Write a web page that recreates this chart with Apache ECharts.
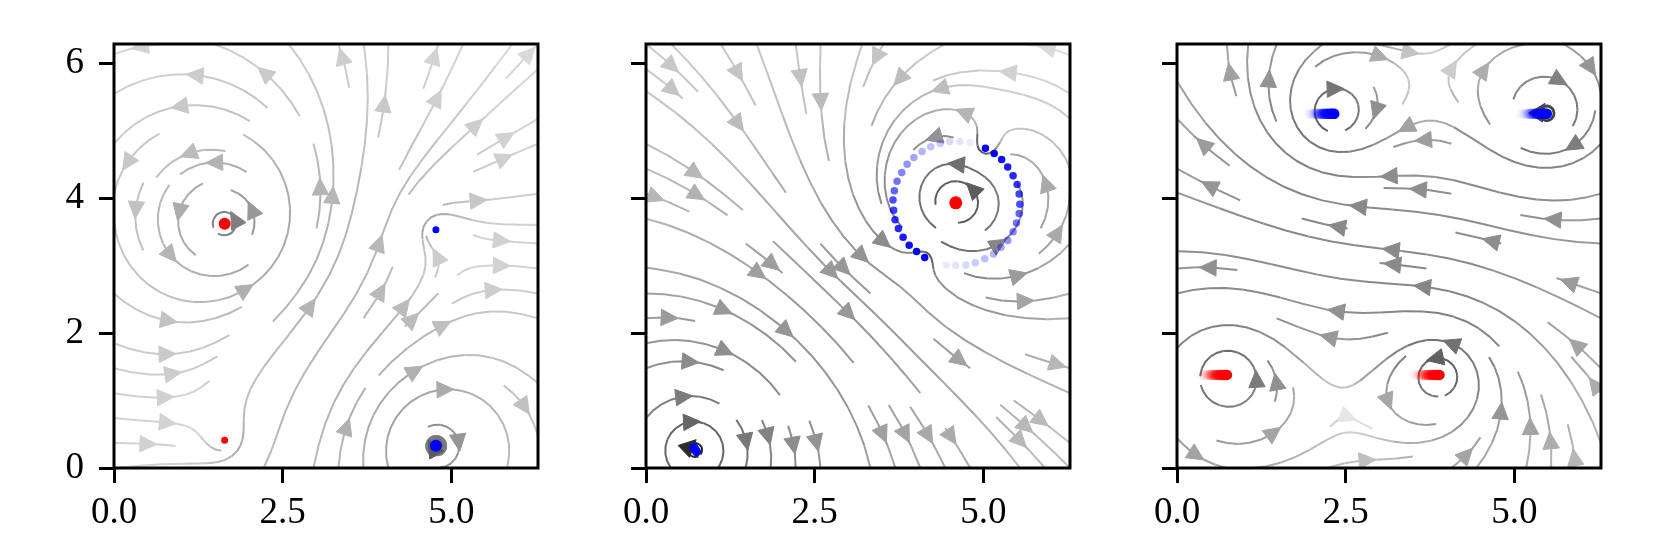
<!DOCTYPE html>
<html><head><meta charset="utf-8">
<script src="https://cdn.jsdelivr.net/npm/echarts@6/dist/echarts.min.js"></script>
<style>html,body{margin:0;padding:0;background:#fff}#c{width:1663px;height:556px}</style>
</head><body><div id="c"></div>
<script>
// ---------------- data ----------------
const TAU = 2 * Math.PI;
const xTicks = [0, 2.5, 5];
const yTicks = [0, 2, 4, 6];

// panel 1 point vortices (red = +, blue = -)
const p1VortexX = [1.64, 1.64, 4.77, 4.77];
const p1VortexY = [3.62, 0.41, 0.33, 3.53];
const p1Gamma   = [1.0, 0.2, -1.0, -0.2];

// panel 2 point vortices
const p2VortexX = [4.59, 0.73, 5.03, 4.13];
const p2VortexY = [3.93, 0.27, 4.74, 3.12];
const p2Gamma   = [1.0, -1.0, -0.2, -0.2];
// panel 2 trails of the two satellites (newest first)
const p2TrailAX = [5.03,5.16,5.27,5.36,5.44,5.50,5.53,5.54,5.53,5.49,5.44,5.36,5.26,5.15,5.02,4.88,4.74,4.59,4.45];
const p2TrailAY = [4.74,4.66,4.57,4.46,4.33,4.20,4.06,3.91,3.77,3.63,3.50,3.37,3.27,3.17,3.10,3.04,3.01,3.00,3.01];
const p2TrailBX = [4.13,4.01,3.90,3.81,3.74,3.69,3.67,3.66,3.68,3.72,3.79,3.87,3.97,4.09,4.22,4.36,4.50,4.65,4.80];
const p2TrailBY = [3.12,3.21,3.30,3.42,3.55,3.68,3.82,3.97,4.11,4.25,4.38,4.50,4.60,4.69,4.76,4.81,4.84,4.84,4.82];
const p2TrailAlpha = [1,1,0.95,0.9,0.85,0.8,0.75,0.7,0.62,0.55,0.48,0.42,0.36,0.3,0.25,0.2,0.15,0.11,0.08];
const p2BlueSpotX = [0.71, 0.73, 0.75];
const p2BlueSpotY = [0.30, 0.27, 0.24];

// panel 3 point vortices
const p3VortexX = [0.74, 3.89, 2.33, 5.48];
const p3VortexY = [1.38, 1.38, 5.25, 5.25];
const p3Gamma   = [1.0, 1.0, -1.0, -1.0];
// panel 3 trails (oldest first)
const p3RedTrail1X  = [0.34,0.36,0.38,0.40,0.42,0.44,0.46,0.48,0.50,0.52,0.54,0.56,0.58,0.60,0.62,0.64,0.66,0.68,0.70,0.72,0.74];
const p3RedTrail2X  = [3.49,3.51,3.53,3.55,3.57,3.59,3.61,3.63,3.65,3.67,3.69,3.71,3.73,3.75,3.77,3.79,3.81,3.83,3.85,3.87,3.89];
const p3BlueTrail1X = [1.93,1.95,1.97,1.99,2.01,2.03,2.05,2.07,2.09,2.11,2.13,2.15,2.17,2.19,2.21,2.23,2.25,2.27,2.29,2.31,2.33];
const p3BlueTrail2X = [5.08,5.10,5.12,5.14,5.16,5.18,5.20,5.22,5.24,5.26,5.28,5.30,5.32,5.34,5.36,5.38,5.40,5.42,5.44,5.46,5.48];
const p3RedTrailY = 1.38, p3BlueTrailY = 5.25;
const p3TrailAlpha = [0.01,0.01,0.02,0.03,0.04,0.06,0.09,0.12,0.16,0.2,0.25,0.3,0.36,0.42,0.49,0.56,0.64,0.72,0.81,0.9,1];

// ---------------- streamline computation (matplotlib-like) ----------------
const DENSITY = 0.6;
function streamplot(VX, VY, VG) {
  const N = 100, h = TAU / (N - 1), MN = Math.floor(30 * DENSITY);
  const U = new Float64Array(N * N), V = new Float64Array(N * N);
  const SA = new Float64Array(N * N), SP = new Float64Array(N * N);
  for (let j = 0; j < N; j++) for (let i = 0; i < N; i++) {
    const x = i * h, y = j * h; let u = 0, v = 0;
    for (let k = 0; k < VX.length; k++) {
      const dx = x - VX[k], dy = y - VY[k], r2 = dx * dx + dy * dy;
      const c = VG[k] / (2 * Math.PI * r2);
      u -= c * dy; v += c * dx;
    }
    const id = j * N + i;
    U[id] = u / h; V[id] = v / h;
    SA[id] = Math.hypot(U[id] / (N - 1), V[id] / (N - 1));
    SP[id] = Math.hypot(u, v);
  }
  const mask = new Uint8Array(MN * MN), g2m = (MN - 1) / (N - 1);
  let traj = [], cur = null;
  const within = (x, y) => x >= 0 && x <= N - 1 && y >= 0 && y <= N - 1;
  function interp(a, xi, yi) {
    const x = Math.trunc(xi), y = Math.trunc(yi);
    const xn = x === N - 1 ? x : x + 1, yn = y === N - 1 ? y : y + 1;
    const xt = xi - x, yt = yi - y;
    const a0 = a[y * N + x] * (1 - xt) + a[y * N + xn] * xt;
    const a1 = a[yn * N + x] * (1 - xt) + a[yn * N + xn] * xt;
    return a0 * (1 - yt) + a1 * yt;
  }
  function markCell(xm, ym) {
    if (cur === null || cur[0] !== xm || cur[1] !== ym) {
      if (mask[ym * MN + xm] === 0) { traj.push(ym * MN + xm); mask[ym * MN + xm] = 1; cur = [xm, ym]; return true; }
      return false;
    }
    return true;
  }
  function update(xg, yg) { if (!within(xg, yg)) return false; return markCell(Math.round(xg * g2m), Math.round(yg * g2m)); }
  const OOB = { t: 'oob' }, TERM = { t: 'term' };
  function f(xi, yi, dir) {
    if (!within(xi, yi)) throw OOB;
    const s = interp(SA, xi, yi);
    if (s === 0 || !isFinite(s)) throw TERM;
    const k = dir / s;
    return [interp(U, xi, yi) * k, interp(V, xi, yi) * k];
  }
  function euler(pts, dir) {
    const [xi, yi] = pts[pts.length - 1];
    let c;
    try { c = f(xi, yi, dir); } catch (e) { return 0; }
    const [cx, cy] = c;
    const dsx = cx === 0 ? Infinity : (cx < 0 ? xi / -cx : (N - 1 - xi) / cx);
    const dsy = cy === 0 ? Infinity : (cy < 0 ? yi / -cy : (N - 1 - yi) / cy);
    const ds = Math.min(dsx, dsy);
    pts.push([xi + cx * ds, yi + cy * ds]);
    return ds;
  }
  function rk12(x0, y0, dir) {
    const maxerror = 0.003, maxds = Math.min(1 / MN, 0.1), maxlength = 4.0;
    let ds = maxds, stotal = 0, xi = x0, yi = y0; const pts = [];
    while (true) {
      let k1, k2;
      try {
        if (within(xi, yi)) pts.push([xi, yi]); else throw OOB;
        k1 = f(xi, yi, dir);
        k2 = f(xi + ds * k1[0], yi + ds * k1[1], dir);
      } catch (e) {
        if (e === OOB && pts.length) stotal += euler(pts, dir);
        break;
      }
      const dx1 = ds * k1[0], dy1 = ds * k1[1];
      const dx2 = ds * 0.5 * (k1[0] + k2[0]), dy2 = ds * 0.5 * (k1[1] + k2[1]);
      const err = Math.hypot((dx2 - dx1) / (N - 1), (dy2 - dy1) / (N - 1));
      if (err < maxerror) {
        xi += dx2; yi += dy2;
        if (!update(xi, yi)) break;
        if (stotal + ds > maxlength) break;
        stotal += ds;
      }
      ds = err === 0 ? maxds : Math.min(maxds, 0.85 * ds * Math.sqrt(maxerror / err));
    }
    return [stotal, pts];
  }
  function integrate(x0, y0) {
    traj = [];
    const xm = Math.round(x0 * g2m), ym = Math.round(y0 * g2m);
    if (!markCell(xm, ym)) return null;
    let stotal = 0;
    const [sb, pb] = rk12(x0, y0, -1);
    stotal += sb;
    let xy = pb.reverse();
    cur = [xm, ym];
    const [sf, pf] = rk12(x0, y0, 1);
    stotal += sf;
    xy = xy.concat(pf.slice(1));
    if (stotal > 0.1) return xy;
    for (const t of traj) mask[t] = 0;
    return null;
  }
  const out = [];
  let xfirst = 0, yfirst = 1, xlast = MN - 1, ylast = MN - 1, x = 0, y = 0, dirn = 'right';
  for (let i = 0; i < MN * MN; i++) {
    if (mask[y * MN + x] === 0) {
      const t = integrate(x / g2m, y / g2m);
      if (t) out.push(t);
    }
    if (dirn === 'right') { x++; if (x >= xlast) { xlast--; dirn = 'up'; } }
    else if (dirn === 'up') { y++; if (y >= ylast) { ylast--; dirn = 'left'; } }
    else if (dirn === 'left') { x--; if (x <= xfirst) { xfirst++; dirn = 'down'; } }
    else { y--; if (y <= yfirst) { yfirst++; dirn = 'right'; } }
  }
  return out.map(t => ({
    pts: t.map(p => [p[0] * h, p[1] * h]),
    spd: t.map(p => interp(SP, Math.min(p[0], N - 1), Math.min(p[1], N - 1)))
  }));
}

// Greys colormap
const GREYS = [255, 240, 217, 189, 150, 115, 82, 37, 0];
function greyColor(spd, a, b) {
  let t = a + b * Math.log10(Math.max(spd, 1e-9));
  t = Math.max(0, Math.min(1, t));
  const p = t * 8, i = Math.min(7, Math.floor(p)), fr = p - i;
  const g = Math.round(GREYS[i] * (1 - fr) + GREYS[i + 1] * fr);
  return 'rgb(' + g + ',' + g + ',' + g + ')';
}

const panelDefs = [
  { vx: p1VortexX, vy: p1VortexY, g: p1Gamma, ca: 0.58, cb: 0.2126 },
  { vx: p2VortexX, vy: p2VortexY, g: p2Gamma, ca: 0.80, cb: 0.2945 },
  { vx: p3VortexX, vy: p3VortexY, g: p3Gamma, ca: 0.74, cb: 0.29 }
];
const gridLefts = [114, 646, 1177];

const series = [], grids = [], xAxes = [], yAxes = [];
const labelFont = { fontFamily: 'Liberation Serif', fontSize: 37, color: '#000' };

panelDefs.forEach((pd, pi) => {
  grids.push({ left: gridLefts[pi], top: 44, width: 424, height: 424, show: true, borderColor: '#000', borderWidth: 3, backgroundColor: 'rgba(0,0,0,0)', z: 10 });
  xAxes.push({
    type: 'value', gridIndex: pi, min: 0, max: TAU,
    axisLine: { show: false, onZero: false },
    axisTick: { show: true, length: 15, lineStyle: { color: '#000', width: 3 }, customValues: xTicks },
    axisLabel: Object.assign({ show: true, customValues: xTicks, margin: 27, formatter: v => v.toFixed(1) }, labelFont),
    splitLine: { show: false }
  });
  yAxes.push({
    type: 'value', gridIndex: pi, min: 0, max: TAU,
    axisLine: { show: false, onZero: false },
    axisTick: { show: true, length: 15, lineStyle: { color: '#000', width: 3 }, customValues: yTicks },
    axisLabel: Object.assign({ show: pi === 0, customValues: yTicks, margin: 30, formatter: v => String(v) }, labelFont),
    splitLine: { show: false }
  });

  const lines = streamplot(pd.vx, pd.vy, pd.g);
  const lineData = [], arrowData = [];
  lines.forEach(L => {
    const P = L.pts, S = L.spd;
    for (let k = 0; k < P.length - 1; k += 2) {
      const end = Math.min(k + 2, P.length - 1);
      lineData.push({ coords: P.slice(k, end + 1), lineStyle: { color: greyColor(S[k], pd.ca, pd.cb) } });
    }
    let tot = 0; const cs = [];
    for (let k = 1; k < P.length; k++) { tot += Math.hypot(P[k][0] - P[k - 1][0], P[k][1] - P[k - 1][1]); cs.push(tot); }
    let n = 0; while (n < cs.length && cs[n] < tot / 2) n++;
    if (n >= P.length - 1) n = P.length - 2;
    const hx = (P[n][0] + P[n + 1][0]) / 2, hy = (P[n][1] + P[n + 1][1]) / 2;
    arrowData.push([hx, hy, P[n + 1][0] - P[n][0], P[n + 1][1] - P[n][1], S[n]]);
  });

  series.push({
    type: 'lines', coordinateSystem: 'cartesian2d', xAxisIndex: pi, yAxisIndex: pi,
    polyline: true, silent: true, z: 2, clip: true,
    lineStyle: { width: 2, opacity: 1, curveness: 0, cap: 'butt', join: 'round' },
    data: lineData
  });
  series.push({
    type: 'custom', coordinateSystem: 'cartesian2d', xAxisIndex: pi, yAxisIndex: pi,
    silent: true, z: 3, clip: true,
    dimensions: ['x', 'y', 'dx', 'dy', 's'], encode: { x: 0, y: 1 },
    renderItem: (params, api) => {
      const x = api.value(0), y = api.value(1), ddx = api.value(2), ddy = api.value(3);
      const col = greyColor(api.value(4), pd.ca, pd.cb);
      const p = api.coord([x, y]);
      const m0 = Math.hypot(ddx, ddy) || 1;
      const q = api.coord([x + ddx / m0 * 0.01, y + ddy / m0 * 0.01]);
      let vx = q[0] - p[0], vy = q[1] - p[1]; const m = Math.hypot(vx, vy) || 1; vx /= m; vy /= m;
      const Lh = 17, W = 8.2;
      const tip = [p[0] + vx * Lh * 0.45, p[1] + vy * Lh * 0.45];
      const bc = [tip[0] - vx * Lh, tip[1] - vy * Lh];
      const pts = [tip, [bc[0] - vy * W, bc[1] + vx * W], [bc[0] + vy * W, bc[1] - vx * W]];
      return { type: 'polygon', shape: { points: pts }, style: { fill: col, stroke: col, lineWidth: 1 } };
    },
    data: arrowData
  });
});

function dot(x, y, size, color, op) { return { value: [x, y], symbolSize: size, itemStyle: { color: color, opacity: op } }; }
const m1 = [
  dot(p1VortexX[0], p1VortexY[0], 12, '#ff0000', 1),
  dot(p1VortexX[1], p1VortexY[1], 7, '#ff0000', 1),
  dot(p1VortexX[2], p1VortexY[2], 12, '#0000ff', 1),
  dot(p1VortexX[3], p1VortexY[3], 7, '#0000ff', 1)
];
const m2 = [];
for (let i = p2TrailAX.length - 1; i >= 0; i--) {
  m2.push(dot(p2TrailAX[i], p2TrailAY[i], 7.5, '#0000ff', p2TrailAlpha[i]));
  m2.push(dot(p2TrailBX[i], p2TrailBY[i], 7.5, '#0000ff', p2TrailAlpha[i]));
}
p2BlueSpotX.forEach((x, i) => m2.push(dot(x, p2BlueSpotY[i], 9, '#0000ff', 1)));
m2.push(dot(p2VortexX[0], p2VortexY[0], 13, '#ff0000', 1));
const m3 = [];
p3TrailAlpha.forEach((a, i) => {
  m3.push(dot(p3RedTrail1X[i], p3RedTrailY, 10.5, '#ff0000', a));
  m3.push(dot(p3RedTrail2X[i], p3RedTrailY, 10.5, '#ff0000', a));
  m3.push(dot(p3BlueTrail1X[i], p3BlueTrailY, 10.5, '#0000ff', a));
  m3.push(dot(p3BlueTrail2X[i], p3BlueTrailY, 10.5, '#0000ff', a));
});
[m1, m2, m3].forEach((d, pi) => series.push({
  type: 'scatter', xAxisIndex: pi, yAxisIndex: pi, symbol: 'circle', silent: true, z: 5, data: d
}));

const chart = echarts.init(document.getElementById('c'), null, { renderer: 'canvas' });
chart.setOption({ animation: false, backgroundColor: '#fff', grid: grids, xAxis: xAxes, yAxis: yAxes, series: series });
</script></body></html>
